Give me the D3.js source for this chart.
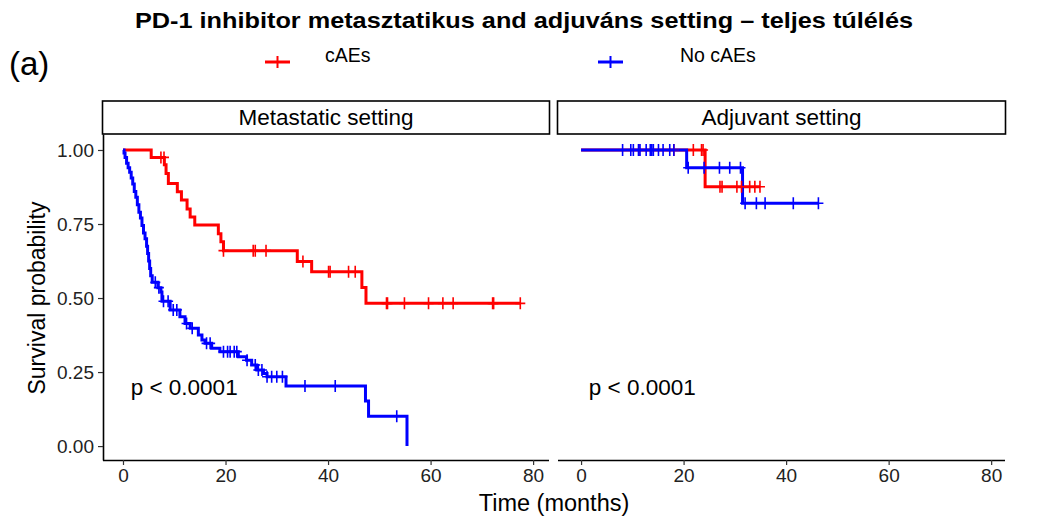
<!DOCTYPE html>
<html>
<head>
<meta charset="utf-8">
<script src="https://cdn.jsdelivr.net/npm/d3@7"></script>
<style>
  body { margin: 0; background: #fff; }
  text { font-family: "Liberation Sans", Arial, sans-serif; }
</style>
</head>
<body>
<svg id="chart" width="1040" height="517"></svg>
<script>
// Chart data
const panels = ["Metastatic setting", "Adjuvant setting"];
const groups = ["cAEs", "No cAEs"];
const groupColors = ["#ff0000", "#0000ff"];
const xTicks = [0, 20, 40, 60, 80];
const yTicks = [0, 0.25, 0.5, 0.75, 1];
const yTickLabels = ["0.00", "0.25", "0.50", "0.75", "1.00"];
const pLabels = ["p < 0.0001", "p < 0.0001"];

// Metastatic, cAEs: event times / survival after event
const metaCaesTime = [5.5, 8.07, 8.4, 8.85, 10.6, 11.4, 12.5, 13.1, 14.0, 18.6, 19.1, 19.6, 34.0, 36.8, 46.6, 47.4];
const metaCaesSurv = [0.975, 0.95, 0.921, 0.887, 0.859, 0.831, 0.801, 0.774, 0.747, 0.717, 0.69, 0.66, 0.623, 0.589, 0.536, 0.482];
const metaCaesCensor = [7.4, 8.0, 19.6, 25.4, 25.8, 27.9, 35.1, 40.1, 40.4, 44.0, 45.3, 51.4, 51.6, 54.9, 59.6, 62.4, 64.4, 72.1, 72.3, 77.5];
const metaCaesEnd = 77.5;

// Metastatic, No cAEs
const metaNoTime = [0.2, 0.4, 0.7, 1.0, 1.3, 1.6, 1.9, 2.2, 2.5, 2.8, 3.1, 3.4, 3.7, 4.0, 4.3, 4.6, 4.8, 5.0, 5.2, 5.4, 5.7, 6.8, 7.4, 7.6, 9.2, 11.1, 12.1, 13.1, 14.7, 15.4, 16.0, 17.3, 18.9, 22.5, 24.1, 25.1, 26.1, 27.4, 28.1, 31.8, 47.3, 47.9, 55.4];
const metaNoSurv = [0.99, 0.975, 0.955, 0.94, 0.925, 0.905, 0.885, 0.86, 0.84, 0.815, 0.79, 0.77, 0.745, 0.72, 0.7, 0.675, 0.65, 0.625, 0.6, 0.575, 0.553, 0.535, 0.52, 0.489, 0.46, 0.437, 0.414, 0.398, 0.375, 0.358, 0.347, 0.33, 0.319, 0.302, 0.29, 0.274, 0.257, 0.245, 0.234, 0.203, 0.152, 0.101, 0];
const metaNoCensor = [6.3, 7.0, 7.9, 8.8, 9.8, 10.5, 12.4, 13.5, 16.3, 17.0, 19.6, 20.4, 20.9, 21.7, 22.2, 24.2, 25.8, 26.4, 27.1, 28.1, 29.0, 30.0, 31.1, 35.5, 41.4, 53.4];
const metaNoEnd = 55.4;

// Adjuvant, cAEs
const adjCaesTime = [24.2];
const adjCaesSurv = [0.876];
const adjCaesCensor = [11.3, 18.1, 21.9, 23.5, 23.8, 27.1, 27.5, 30.4, 31.3, 32.9, 33.9, 34.9];
const adjCaesEnd = 34.9;

// Adjuvant, No cAEs
const adjNoTime = [20.6, 31.5];
const adjNoSurv = [0.94, 0.82];
const adjNoCensor = [8.1, 9.7, 10.2, 11.2, 11.5, 12.7, 13.5, 13.8, 14.1, 15.1, 16.0, 17.3, 18.1, 20.9, 24.0, 27.0, 29.0, 31.1, 32.0, 34.2, 35.9, 41.4, 46.3];
const adjNoEnd = 46.3;

const curves = [
  [ {time: metaCaesTime, surv: metaCaesSurv, censor: metaCaesCensor, end: metaCaesEnd},
    {time: metaNoTime, surv: metaNoSurv, censor: metaNoCensor, end: metaNoEnd} ],
  [ {time: adjCaesTime, surv: adjCaesSurv, censor: adjCaesCensor, end: adjCaesEnd},
    {time: adjNoTime, surv: adjNoSurv, censor: adjNoCensor, end: adjNoEnd} ]
];

const svg = d3.select("#chart");

const panelLeft = [103, 558];
const panelRight = [549, 1005];
const xDomains = [[-3.9, 83.1], [-4.5, 82.7]];
const panelTop = 134, panelBottom = 460;
const stripTop = 101;

const y = d3.scaleLinear().domain([-0.047, 1.054]).range([panelBottom, panelTop]);

// Title
svg.append("text")
  .attr("x", 524).attr("y", 28)
  .attr("text-anchor", "middle")
  .attr("textLength", 778)
  .attr("lengthAdjust", "spacingAndGlyphs")
  .style("font-weight", "bold")
  .style("font-size", "22px")
  .text("PD-1 inhibitor metasztatikus and adjuváns setting – teljes túlélés");

svg.append("text")
  .attr("x", 9).attr("y", 75)
  .style("font-size", "33px")
  .text("(a)");

// Legend
const legendX = [265, 598];
const legendTextX = [325, 680];
groups.forEach((g, i) => {
  const lg = svg.append("g");
  lg.append("line")
    .attr("x1", legendX[i]).attr("x2", legendX[i] + 25)
    .attr("y1", 62).attr("y2", 62)
    .attr("stroke", groupColors[i]).attr("stroke-width", 3);
  lg.append("path")
    .attr("d", `M${legendX[i] + 12.5},56V68M${legendX[i] + 7},62H${legendX[i] + 18}`)
    .attr("stroke", groupColors[i]).attr("stroke-width", 2);
  lg.append("text")
    .attr("x", legendTextX[i]).attr("y", 62)
    .style("font-size", "19.5px")
    .text(g);
});

// Survival at time t for a step curve
function survAt(c, t) {
  let s = 1;
  c.time.forEach((tt, k) => { if (tt <= t) s = c.surv[k]; });
  return s;
}

panels.forEach((name, p) => {
  const x = d3.scaleLinear().domain(xDomains[p]).range([panelLeft[p], panelRight[p]]);
  const w = panelRight[p] - panelLeft[p];
  const g = svg.append("g");

  // strip
  g.append("rect")
    .attr("x", panelLeft[p] - 0.5).attr("y", stripTop)
    .attr("width", w + 1).attr("height", panelTop - stripTop)
    .attr("fill", "#fff").attr("stroke", "#000").attr("stroke-width", 1.6);
  g.append("text")
    .attr("x", panelLeft[p] + w / 2).attr("y", panelTop - 9)
    .attr("text-anchor", "middle")
    .style("font-size", "22.5px")
    .text(name);

  // x axis
  const xAxis = g.append("g")
    .attr("transform", `translate(0,${panelBottom})`)
    .call(d3.axisBottom(x).tickValues(xTicks).tickSize(5).tickPadding(4).tickSizeOuter(0));
  xAxis.select(".domain").attr("stroke", "#000").attr("stroke-width", 1.6)
    .attr("d", `M${panelLeft[p]},0.5H${panelRight[p]}`);
  xAxis.selectAll(".tick line").attr("stroke", "#333").attr("stroke-width", 1.2);
  xAxis.selectAll(".tick text").style("font-size", "19px").attr("fill", "#222")
    .style("font-family", "'Liberation Sans', Arial, sans-serif");

  if (p === 0) {
    const yAxis = g.append("g")
      .attr("transform", `translate(${panelLeft[p]},0)`)
      .call(d3.axisLeft(y).tickValues(yTicks).tickFormat((d, i) => yTickLabels[i]).tickSize(5).tickPadding(4).tickSizeOuter(0));
    yAxis.select(".domain").attr("stroke", "#000").attr("stroke-width", 1.6);
    yAxis.selectAll(".tick line").attr("stroke", "#333").attr("stroke-width", 1.2);
    yAxis.selectAll(".tick text").style("font-size", "19px").attr("fill", "#222")
      .style("font-family", "'Liberation Sans', Arial, sans-serif");
  }

  // curves
  const line = d3.line().curve(d3.curveStepAfter).x(d => x(d[0])).y(d => y(d[1]));
  curves[p].forEach((c, i) => {
    const pts = [[0, 1]];
    c.time.forEach((t, k) => pts.push([t, c.surv[k]]));
    const last = pts[pts.length - 1];
    if (c.end > last[0]) pts.push([c.end, last[1]]);
    g.append("path")
      .attr("d", line(pts))
      .attr("fill", "none")
      .attr("stroke", groupColors[i])
      .attr("stroke-width", 3);
  });
  curves[p].forEach((c, i) => {
    g.selectAll(null).data(c.censor).enter().append("path")
      .attr("d", t => {
        const cx = x(t), cy = y(survAt(c, t));
        return `M${cx},${cy - 6}V${cy + 6}M${cx - 5},${cy}H${cx + 5}`;
      })
      .attr("stroke", groupColors[i])
      .attr("stroke-width", 1.6);
  });

  g.append("text")
    .attr("x", x(1.5)).attr("y", 395)
    .style("font-size", "22.5px")
    .text(pLabels[p]);
});

// axis titles
svg.append("text")
  .attr("x", 554).attr("y", 511)
  .attr("text-anchor", "middle")
  .style("font-size", "23.5px")
  .text("Time (months)");

svg.append("text")
  .attr("transform", "translate(45,298) rotate(-90)")
  .attr("text-anchor", "middle")
  .style("font-size", "23px")
  .text("Survival probability");
</script>
</body>
</html>
